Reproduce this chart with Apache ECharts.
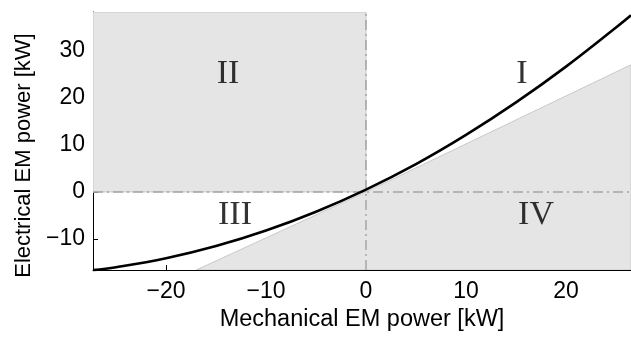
<!DOCTYPE html>
<html>
<head>
<meta charset="utf-8">
<script src="https://cdn.jsdelivr.net/npm/echarts@6/dist/echarts.min.js"></script>
<style>
  html, body { margin: 0; padding: 0; background: #fff; }
  #chart { width: 631px; height: 337px; }
</style>
</head>
<body>
<div id="chart"></div>
<script>
// Axis limits [kW]
const X_MIN = -27.3, X_MAX = 26.5;
const Y_MIN = -16.6, Y_MAX = 38.2;

// Tick values
const xTicks = [-20, -10, 0, 10, 20];
const yTicks = [-10, 0, 10, 20, 30];

// EM power map: mechanical power vs. electrical power [kW]
const mechPower = [-27.3, -25, -20, -15, -10, -5, 0, 5, 10, 15, 20, 25, 26.5];
const elecPower = [-16.6, -16.0, -14.1, -11.5, -8.2, -4.2, 0.5, 5.9, 12.1, 19.0, 26.6, 34.9, 37.5];

// Loss-free boundary (electrical = mechanical)
const lossFreeMech = [-17.0, 0, 26.5];
const lossFreeElec = [-16.6, 0, 27.0];

// Quadrant labels and their anchor points
const quadrantNames = ['II', 'I', 'III', 'IV'];
const quadrantX = [-13.8, 15.6, -13.1, 17.0];
const quadrantY = [25.0, 25.0, -5.0, -5.0];

const fmt = v => (v < 0 ? '\u2212' + Math.abs(v) : String(v));

// Shaded regions: quadrant II, and everything below the loss-free line
const boundary = lossFreeMech.map((x, i) => [x, lossFreeElec[i]]);
const regions = [
  [[X_MIN, 0], [0, 0], [0, Y_MAX], [X_MIN, Y_MAX]],
  boundary.concat([[X_MAX, Y_MIN]])
];

const sans = 'Liberation Sans, Arial, sans-serif';
const tickFont = { fontFamily: sans, fontSize: 23, color: '#000' };

const chart = echarts.init(document.getElementById('chart'), null, { renderer: 'canvas' });
chart.setOption({
  animation: false,
  backgroundColor: '#fff',
  grid: { left: 93, right: 0, top: 12, bottom: 64 },
  xAxis: {
    type: 'value', min: X_MIN, max: X_MAX,
    name: 'Mechanical EM power [kW]', nameLocation: 'middle', nameGap: 27,
    nameTextStyle: { fontFamily: sans, fontSize: 23.5, color: '#000' },
    axisLine: { onZero: false, lineStyle: { color: '#000', width: 1 } },
    axisTick: { inside: true, length: 5, customValues: xTicks, lineStyle: { color: '#000' } },
    axisLabel: Object.assign({ margin: 10, customValues: xTicks, formatter: fmt }, tickFont),
    splitLine: { show: false }
  },
  yAxis: {
    type: 'value', min: Y_MIN, max: Y_MAX,
    name: 'Electrical EM power [kW]', nameLocation: 'middle', nameGap: 58,
    nameTextStyle: { fontFamily: sans, fontSize: 22, color: '#000', padding: [0, 29, 0, 0] },
    axisLine: { onZero: false, lineStyle: { color: '#000', width: 1 } },
    axisTick: { inside: true, length: 5, customValues: yTicks, lineStyle: { color: '#000' } },
    axisLabel: Object.assign({ margin: 8, customValues: yTicks, formatter: fmt }, tickFont),
    splitLine: { show: false }
  },
  series: [
    {
      type: 'custom',
      silent: true,
      clip: true,
      z: 2,
      data: regions.map((r, i) => [i, 0]),
      renderItem: (params, api) => {
        const pts = regions[params.dataIndex].map(p => api.coord(p));
        return {
          type: 'polygon',
          shape: { points: pts },
          style: { fill: '#e5e5e5', stroke: '#c8c8c8', lineWidth: 1 }
        };
      }
    },
    {
      type: 'line', silent: true, symbol: 'none', z: 3,
      data: [[X_MIN, 0], [X_MAX, 0]],
      lineStyle: { color: '#a5a5a5', width: 1.5, type: [10, 4, 2, 4] }
    },
    {
      type: 'line', silent: true, symbol: 'none', z: 3,
      data: [[0, Y_MIN], [0, Y_MAX]],
      lineStyle: { color: '#a5a5a5', width: 1.5, type: [10, 4, 2, 4] }
    },
    {
      type: 'line', silent: true, symbol: 'none', z: 4, smooth: 0.4,
      data: mechPower.map((x, i) => [x, elecPower[i]]),
      lineStyle: { color: '#000', width: 2.6 }
    },
    {
      type: 'scatter', silent: true, symbolSize: 0, z: 5,
      data: quadrantNames.map((n, i) => ({ name: n, value: [quadrantX[i], quadrantY[i]] })),
      label: {
        show: true, position: 'inside', formatter: p => p.name,
        fontFamily: 'Liberation Serif, Times New Roman, serif', fontSize: 34, color: '#000'
      }
    }
  ]
});
</script>
</body>
</html>
